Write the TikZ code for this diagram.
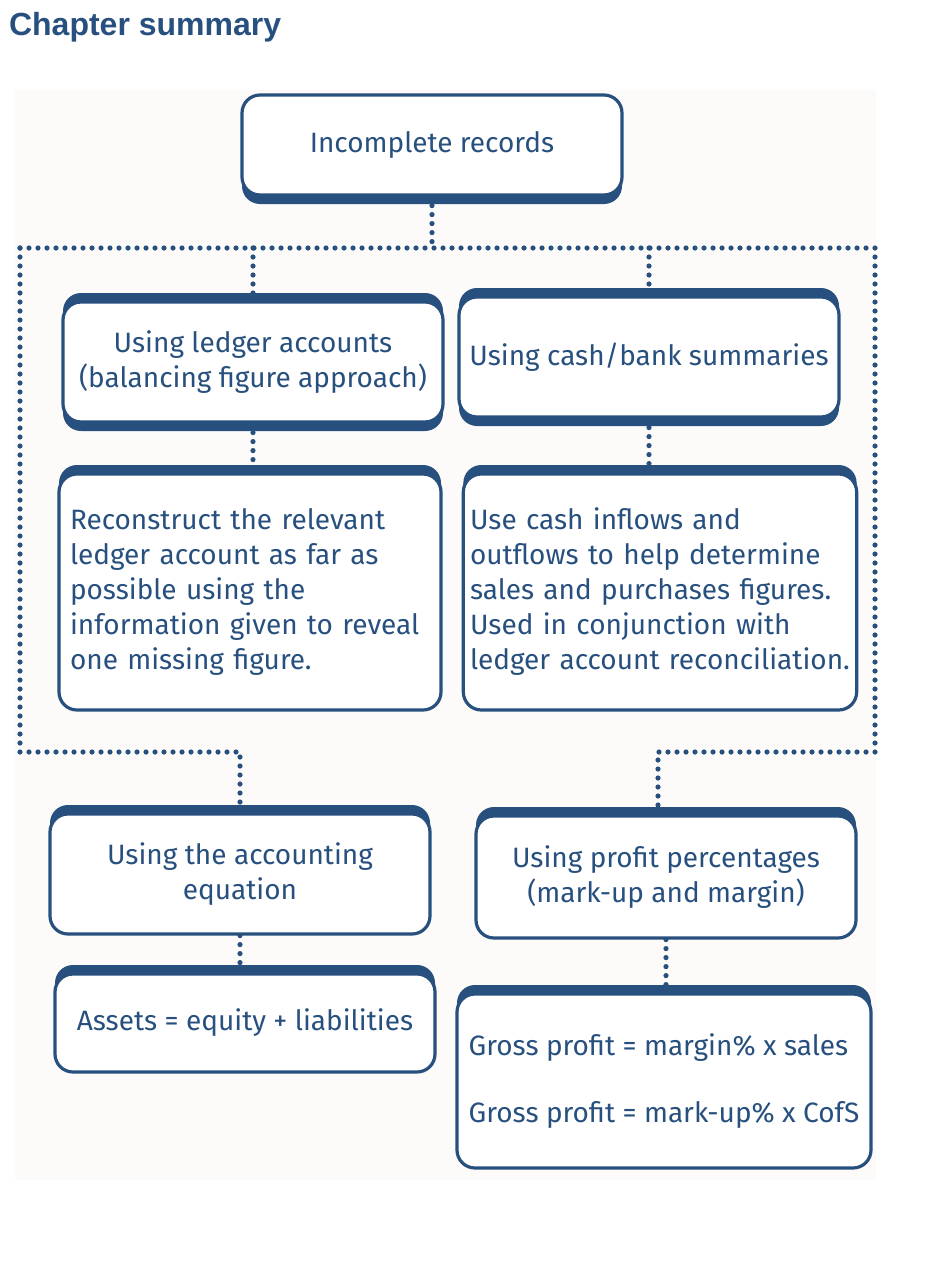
\documentclass[tikz,border=0pt]{standalone}
\usepackage{fontspec}
\setmainfont{Fira Sans}
\setsansfont{Liberation Sans}
\definecolor{navy}{HTML}{28507F}
\definecolor{paper}{HTML}{FCFBF9}
\tikzset{
  box/.style={draw=navy, line width=1.6pt, rounded corners=9pt, fill=white,
    text=navy, font=\fontsize{14}{17.5}\selectfont, align=center},
  thickbot/.style={preaction={fill=navy, rounded corners=10pt, transform canvas={yshift=-4.5pt}}},
  thicktop/.style={preaction={fill=navy, rounded corners=10pt, transform canvas={yshift=4.5pt}}},
  link/.style={navy, line width=2.6pt, line cap=round, dash pattern=on 0pt off 4.5pt},
}
\begin{document}
\begin{tikzpicture}[x=0.5pt, y=-0.5pt]
    \useasboundingbox (0,0) rectangle (948,1280);
    \fill[paper] (15,90) rectangle (876,1180);
    \node (title) [anchor=west, text=navy, font=\sffamily\bfseries\fontsize{16}{18}\selectfont] at (2,27) {Chapter summary};

    \node (rec) [box, thickbot, minimum width=190pt, minimum height=50pt] at (432,145) {Incomplete records};
    \node (ledger) [box, thickbot, thicktop, minimum width=190pt, minimum height=60pt] at (253,362) {Using ledger accounts\\(balancing figure approach)};
    \node (cash) [box, thickbot, thicktop, minimum width=190pt, minimum height=60pt] at (649,357) {Using cash/bank summaries};
    \node (recon) [box, thicktop, align=left, minimum width=191pt, minimum height=118pt, text width=180pt] at (250,592) {Reconstruct the relevant\\ledger account as far as\\possible using the\\information given to reveal\\one missing figure.};
    \node (flows) [box, thicktop, align=left, minimum width=196pt, minimum height=118pt, text width=190pt] at (660,592) {Use cash inflows and\\outflows to help determine\\sales and purchases figures.\\Used in conjunction with\\ledger account reconciliation.};
    \node (eqn) [box, thicktop, minimum width=190pt, minimum height=60pt] at (240,874) {Using the accounting\\equation};
    \node (pct) [box, thicktop, minimum width=190pt, minimum height=61pt] at (666,877) {Using profit percentages\\(mark-up and margin)};
    \node (ale) [box, thicktop, minimum width=190pt, minimum height=49pt] at (245,1023) {Assets = equity + liabilities};
    \node (gp) [box, thicktop, align=left, minimum width=207pt, minimum height=87pt] at (664,1081) {Gross profit = margin\% x sales\\[16pt]Gross profit = mark-up\% x CofS};

    \coordinate (tl) at (20,248);
    \coordinate (tr) at (875,248);
    \coordinate (bl) at (20,752);
    \coordinate (br) at (875,752);
    \coordinate (bm) at (240,752);
    \coordinate (bn) at (658,752);

    \draw[link] (rec.south) -- (rec.south |- tl);
    \draw[link] (tl) -- (tr) -- (br) -- (bn) -- (bn |- pct.north);
    \draw[link] (tl) -- (bl) -- (bm) -- (bm |- eqn.north);
    \draw[link] (ledger.north |- tl) -- (ledger.north);
    \draw[link] (cash.north |- tl) -- (cash.north);
    \draw[link] (ledger.south) -- (ledger.south |- recon.north);
    \draw[link] (cash.south) -- (cash.south |- flows.north);
    \draw[link] (eqn.south) -- (eqn.south |- ale.north);
    \draw[link] (pct.south) -- (pct.south |- gp.north);
\end{tikzpicture}
\end{document}
